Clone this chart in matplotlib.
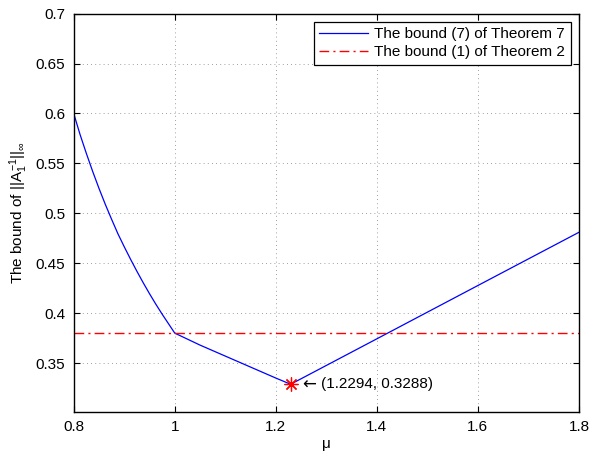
import numpy as np
import matplotlib as mpl
mpl.use('Agg')
import matplotlib.pyplot as plt

plt.rcParams['font.family'] = ['Liberation Sans', 'DejaVu Sans']
plt.rcParams['mathtext.fontset'] = 'custom'
plt.rcParams['mathtext.rm'] = 'Liberation Sans'
plt.rcParams['mathtext.it'] = 'Liberation Sans'

# bound (7) of Theorem 7
mu = [0.80, 0.8125, 0.825, 0.8375, 0.85, 0.8625, 0.875, 0.8875, 0.90, 0.9125,
      0.925, 0.9375, 0.95, 0.9625, 0.975, 0.9875, 1.00,
      1.05, 1.10, 1.15, 1.20, 1.2294, 1.40, 1.60, 1.80]
bound7 = [0.600, 0.579, 0.560, 0.542, 0.525, 0.509, 0.494, 0.4795, 0.4665, 0.454,
          0.442, 0.4305, 0.4195, 0.409, 0.399, 0.3895, 0.380,
          0.368, 0.357, 0.346, 0.335, 0.3288, 0.3743, 0.4277, 0.481]
# bound (1) of Theorem 2
mu_h = [0.8, 1.8]
bound1 = [0.38, 0.38]
# minimum point
mu_min, b_min = 1.2294, 0.3288

fig = plt.figure(figsize=(5.92, 4.53), dpi=100)
ax = fig.add_axes([0.1245, 0.0905, 0.978 - 0.1245, 0.970 - 0.0905])

ax.plot(mu, bound7, c='b', lw=0.9, label='The bound (7) of Theorem 7')
ax.plot(mu_h, bound1, c='r', lw=1.0, ls=(0, (7, 3, 1.5, 3)), label='The bound (1) of Theorem 2')
ax.plot([mu_min], [b_min], ls='none', marker=(8, 2, 0), ms=10, mec='r', mew=0.9)
# annotation: arrow then the coordinates
ax.text(mu_min + 0.022, b_min, '\u2190', family='DejaVu Sans', fontsize=12,
        va='center', ha='left')
ax.text(mu_min + 0.060, b_min + 0.0005, '(%.4f, %.4f)' % (mu_min, b_min),
        fontsize=11, va='center', ha='left')

ax.set_xlim(0.8, 1.8)
ax.set_ylim(0.301, 0.7)
ax.set_xticks([0.8, 1.0, 1.2, 1.4, 1.6, 1.8])
ax.set_xticklabels(['0.8', '1', '1.2', '1.4', '1.6', '1.8'])
ax.set_yticks([0.35, 0.4, 0.45, 0.5, 0.55, 0.6, 0.65, 0.7])
ax.set_yticklabels(['0.35', '0.4', '0.45', '0.5', '0.55', '0.6', '0.65', '0.7'])
ax.tick_params(direction='in', top=True, right=True, labelsize=11, length=4, width=0.8, pad=6)
ax.grid(True, ls=(0, (1, 4)), c='k', lw=0.6, alpha=0.5)
for s in ax.spines.values():
    s.set_linewidth(1.0)

ax.set_xlabel('\u03bc', fontsize=11, labelpad=2)
ax.set_ylabel(r'The bound of $||A_1^{-1}||_\infty$', fontsize=11, labelpad=4)

leg = ax.legend(loc='upper right', fontsize=11, fancybox=False, framealpha=1,
                edgecolor='k', borderpad=0.35, labelspacing=0.25, handlelength=3.2,
                handletextpad=0.4, borderaxespad=0.55)
leg.get_frame().set_linewidth(0.9)

fig.savefig('out.png', dpi=100)
